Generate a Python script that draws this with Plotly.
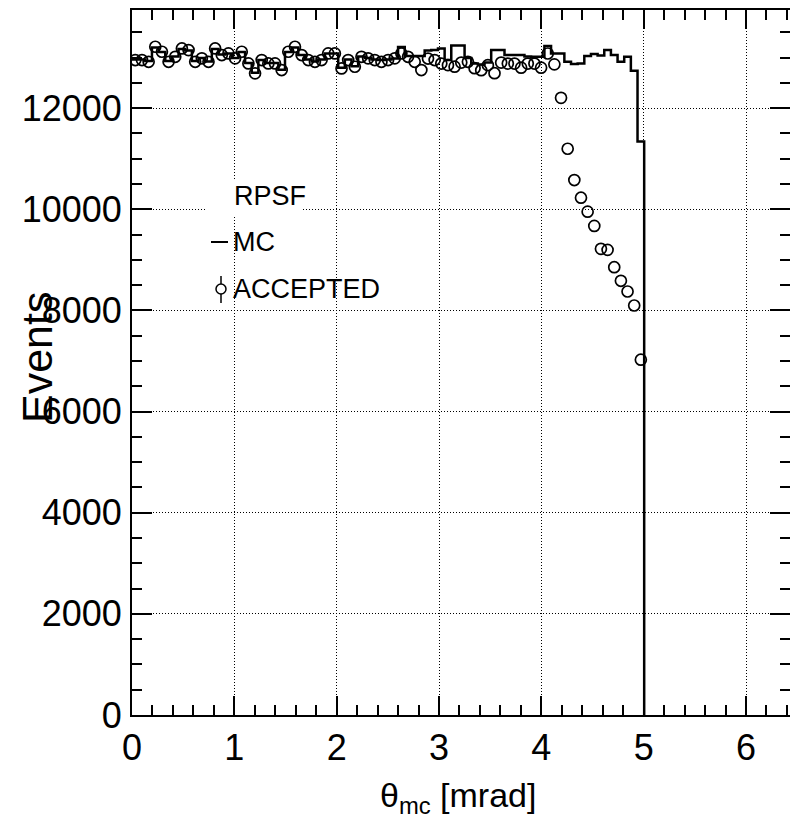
import numpy as np
import plotly.graph_objects as go

# ---------------- data ----------------
n_bins = 100
x_lo, x_hi = 0.0, 6.5
bin_width = (x_hi - x_lo) / n_bins

mc_counts = [
    12960, 12960, 12930, 13200, 13110, 12930, 13020, 13170, 13140, 12930,
    12990, 12920, 13170, 13060, 13080, 12990, 13110, 12890, 12700, 12950,
    12890, 12890, 12760, 13110, 13200, 13050, 12960, 12920, 12960, 13080,
    13080, 12800, 12960, 12830, 13020, 12990, 12960, 12950, 12960, 12980,
    13210, 13030, 13030, 13030, 13140, 13150, 13180, 12950, 13240, 13240,
    12990, 12880, 12860, 12900, 13150, 13150, 13050, 13050, 13050, 13020,
    13015, 13015, 13226, 13082, 13082, 12916, 12870, 12880, 13029, 13070,
    13040, 13147, 13049, 12916, 13015, 12738, 11340,
]

acc_counts = [
    12950, 12950, 12916, 13213, 13114, 12916, 13015, 13180, 13147, 12916,
    12984, 12916, 13180, 13049, 13082, 12984, 13114, 12884, 12687, 12950,
    12884, 12884, 12752, 13114, 13213, 13049, 12950, 12916, 12950, 13082,
    13082, 12785, 12950, 12818, 13015, 12984, 12950, 12916, 12950, 12984,
    13082, 13015, 12916, 12752, 12980, 12950, 12880, 12850, 12820, 12900,
    12916, 12790, 12750, 12850, 12690, 12900, 12880, 12880, 12800, 12880,
    12880, 12800, 13080, 12865, 12203, 11196, 10578, 10229, 9953, 9671,
    9217, 9197, 8855, 8585, 8374, 8097, 7026,
]

x_ticks = [0, 1, 2, 3, 4, 5, 6]
y_ticks = [0, 2000, 4000, 6000, 8000, 10000, 12000]
x_range = [0.0, 6.43]
y_range = [0.0, 13940]

legend_header = "RPSF"
legend_mc = "MC"
legend_acc = "ACCEPTED"
x_title = "θ<sub>mc</sub> [mrad]"
y_title = "Events"

# ---------------- geometry ----------------
W, H = 790, 828
ML, MR, MT, MB = 132, 0, 10, 113
PW = W - ML - MR
PH = H - MT - MB
FONT = "Liberation Sans, Arial, Helvetica, sans-serif"


def px(x):
    return (x - ML) / PW


def py(y):
    return (H - MB - y) / PH


edges = x_lo + bin_width * np.arange(len(mc_counts) + 1)
centers = x_lo + bin_width * (np.arange(len(acc_counts)) + 0.5)

fig = go.Figure()

fig.add_trace(go.Scatter(
    x=edges, y=list(mc_counts) + [0],
    mode="lines", line=dict(shape="hv", color="black", width=2.5),
    showlegend=False, hoverinfo="skip",
))

fig.add_trace(go.Scatter(
    x=centers, y=acc_counts, mode="markers",
    marker=dict(symbol="circle-open", size=11, color="black", line=dict(width=1.7)),
    showlegend=False,
))

# invisible trace to activate the right-hand tick axis
fig.add_trace(go.Scatter(
    x=centers[:1], y=acc_counts[:1], yaxis="y2", mode="markers",
    marker=dict(opacity=0), showlegend=False, hoverinfo="skip",
))

grid = dict(showgrid=True, gridcolor="#000000", gridwidth=1, griddash="1px,2px")

fig.update_layout(
    width=W, height=H,
    margin=dict(l=ML, r=MR, t=MT, b=MB, pad=0),
    paper_bgcolor="white", plot_bgcolor="white",
    font=dict(family=FONT, color="black"),
    showlegend=False,
    xaxis=dict(
        range=x_range, tickvals=x_ticks, ticktext=[str(v) for v in x_ticks],
        ticks="inside", ticklen=19, tickwidth=2, tickcolor="black",
        minor=dict(dtick=0.2, tick0=0, ticks="inside", ticklen=10, tickwidth=2,
                   tickcolor="black", showgrid=False),
        showline=True, linecolor="black", linewidth=2, mirror="ticks",
        tickfont=dict(size=36, family=FONT, color="black"),
        ticklabelstandoff=0, zeroline=False, **grid,
    ),
    yaxis=dict(
        range=y_range, tickvals=y_ticks, ticktext=[str(v) for v in y_ticks],
        ticks="inside", ticklen=20, tickwidth=2, tickcolor="black",
        minor=dict(dtick=500, tick0=0, ticks="inside", ticklen=10, tickwidth=2,
                   tickcolor="black", showgrid=False),
        showline=True, linecolor="black", linewidth=2, mirror=False,
        tickfont=dict(size=36, family=FONT, color="black"),
        ticklabelstandoff=1, zeroline=False, **grid,
    ),
    yaxis2=dict(
        range=y_range, overlaying="y", side="right", anchor="x",
        tickvals=y_ticks, showticklabels=False,
        ticks="inside", ticklen=20, tickwidth=2, tickcolor="black",
        minor=dict(dtick=500, tick0=0, ticks="inside", ticklen=10, tickwidth=2,
                   tickcolor="black", showgrid=False),
        showline=False, showgrid=False, zeroline=False,
    ),
)

# axis titles
fig.add_annotation(text=x_title, xref="paper", yref="paper",
                   x=px(458), y=py(797), xanchor="center", yanchor="middle",
                   showarrow=False, font=dict(size=34, family=FONT, color="black"))
fig.add_annotation(text=y_title, xref="paper", yref="paper", textangle=-90,
                   x=px(37), y=py(358), xanchor="center", yanchor="middle",
                   showarrow=False, font=dict(size=43, family=FONT, color="black"))

# legend (ROOT style)
fig.add_shape(type="rect", xref="paper", yref="paper",
              x0=px(205), x1=px(303), y0=py(215), y1=py(180),
              fillcolor="white", line=dict(width=0), layer="above")
fig.add_annotation(text=legend_header, xref="paper", yref="paper",
                   x=px(232), y=py(196), xanchor="left", yanchor="middle",
                   showarrow=False, font=dict(size=27, family=FONT, color="black"))
fig.add_annotation(text=legend_mc, xref="paper", yref="paper",
                   x=px(231), y=py(242), xanchor="left", yanchor="middle",
                   showarrow=False, font=dict(size=27, family=FONT, color="black"))
fig.add_annotation(text=legend_acc, xref="paper", yref="paper",
                   x=px(231), y=py(289), xanchor="left", yanchor="middle",
                   showarrow=False, font=dict(size=27, family=FONT, color="black"))
fig.add_shape(type="line", xref="paper", yref="paper",
              x0=px(211), x1=px(228), y0=py(242), y1=py(242),
              line=dict(color="black", width=2))
fig.add_shape(type="line", xref="paper", yref="paper",
              x0=px(221), x1=px(221), y0=py(276), y1=py(284),
              line=dict(color="black", width=1.5))
fig.add_shape(type="line", xref="paper", yref="paper",
              x0=px(221), x1=px(221), y0=py(294), y1=py(303),
              line=dict(color="black", width=1.5))
fig.add_shape(type="circle", xref="paper", yref="paper",
              x0=px(216), x1=px(226), y0=py(294), y1=py(284),
              line=dict(color="black", width=1.5), fillcolor="rgba(0,0,0,0)")

fig.write_html("out.html")
